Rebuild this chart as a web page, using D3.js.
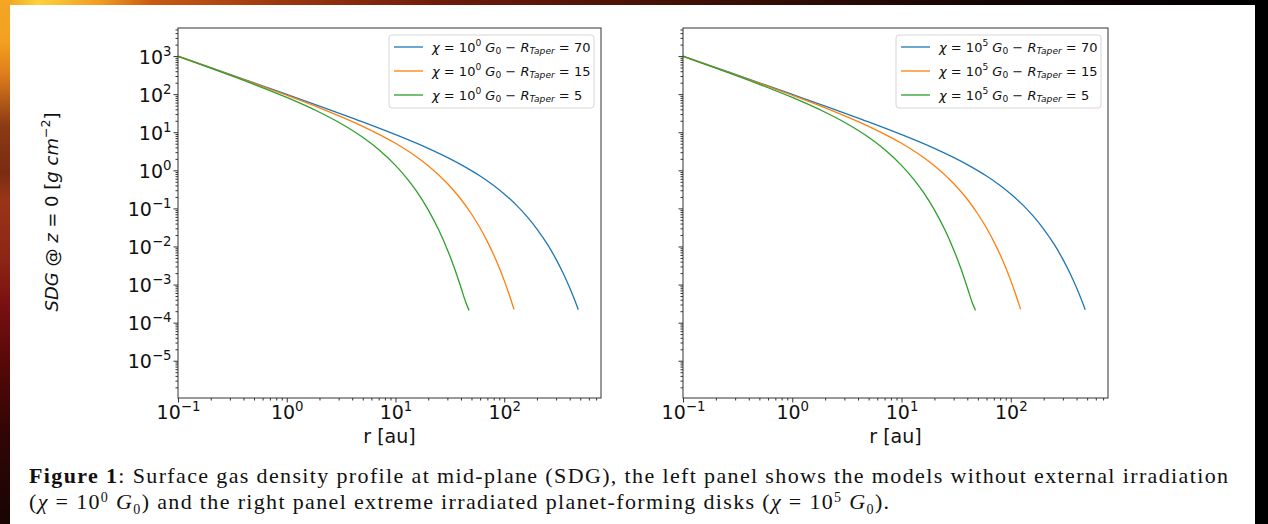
<!DOCTYPE html>
<html>
<head>
<meta charset="utf-8">
<script src="https://cdn.jsdelivr.net/npm/d3@7"></script>
<style>
  body { margin: 0; background: #000; overflow: hidden; }
  text { white-space: pre; }
</style>
</head>
<body>
<svg id="fig"></svg>
<script>
// surface gas density, r in au, SDG in g cm^-2
const rTaper70 = [0.1, 0.2, 0.5, 1, 2, 5, 10, 20, 40, 60, 80, 100, 130, 160, 200, 250, 300, 350, 400, 440, 480];
const sdgTaper70 = [999, 499, 199, 98.6, 48.6, 18.6, 8.67, 3.76, 1.41, 0.707, 0.399, 0.240, 0.120, 0.0636, 0.0287, 0.0113, 0.00459, 0.00193, 0.000825, 0.000423, 0.000219];

const rTaper15 = [0.1, 0.2, 0.5, 1, 2, 5, 10, 15, 20, 30, 40, 50, 60, 70, 80, 90, 100, 110, 123];
const sdgTaper15 = [993, 493, 193, 93.6, 43.8, 14.3, 5.13, 2.45, 1.32, 0.451, 0.174, 0.0713, 0.0305, 0.0134, 0.00604, 0.00275, 0.00127, 0.000594, 0.000223];

const rTaper5 = [0.1, 0.2, 0.5, 1, 2, 3, 5, 7, 10, 13, 16, 20, 25, 30, 35, 40, 44, 47.5];
const sdgTaper5 = [980, 480, 181, 81.9, 33.5, 18.3, 7.36, 3.52, 1.35, 0.571, 0.255, 0.0916, 0.0270, 0.00826, 0.00261, 0.000839, 0.00036, 0.00021];

const taperRadii = [70, 15, 5];
const chiExponents = ["0", "5"];          // left panel, right panel
const xTickExps = [-1, 0, 1, 2];
const yTickExps = [-5, -4, -3, -2, -1, 0, 1, 2, 3];
const seriesColors = ["#1f77b4", "#ff7f0e", "#2ca02c"];

const series = [
  {taper: taperRadii[0], pts: d3.zip(rTaper70, sdgTaper70)},
  {taper: taperRadii[1], pts: d3.zip(rTaper15, sdgTaper15)},
  {taper: taperRadii[2], pts: d3.zip(rTaper5, sdgTaper5)},
];

const W = 1268, H = 524;
const svg = d3.select("#fig").attr("width", W).attr("height", H);

// slide background frame
const defs = svg.append("defs");
const topGrad = defs.append("linearGradient").attr("id", "topGrad");
[["0%", "#ef9a1f"], ["3%", "#fcd23a"], ["8%", "#f09a22"], ["12%", "#c85a12"], ["22%", "#9c3810"],
 ["35%", "#6e1a0a"], ["55%", "#3e1006"], ["78%", "#140404"], ["100%", "#000"]]
  .forEach(s => topGrad.append("stop").attr("offset", s[0]).attr("stop-color", s[1]));
const leftGrad = defs.append("linearGradient").attr("id", "leftGrad")
  .attr("x1", 0).attr("x2", 0).attr("y1", 0).attr("y2", 1);
[["0%", "#f5a623"], ["8%", "#f3a020"], ["14%", "#e07e1c"], ["24%", "#8b3a15"], ["33%", "#7a2c12"],
 ["38%", "#9a3518"], ["50%", "#8c2416"], ["58%", "#7a1010"], ["68%", "#5a0909"], ["82%", "#330505"], ["100%", "#1a0404"]]
  .forEach(s => leftGrad.append("stop").attr("offset", s[0]).attr("stop-color", s[1]));

svg.append("rect").attr("width", W).attr("height", H).attr("fill", "#000");
svg.append("rect").attr("width", W).attr("height", 5).attr("fill", "url(#topGrad)");
svg.append("rect").attr("width", 10).attr("height", H).attr("fill", "url(#leftGrad)");
svg.append("rect").attr("x", 10).attr("y", 5).attr("width", 1245).attr("height", H - 5).attr("fill", "#fff");

// mathtext-like runs: [text, {i: italic, b: bold, s: "sup"|"sub"}]
function addMath(sel, parts, size, supRaise = 0.42, scriptScale = 0.7) {
  let shift = 0;
  parts.forEach(([str, o = {}]) => {
    const target = o.s === "sup" ? -supRaise * size : o.s === "sub" ? 0.22 * size : 0;
    sel.append("tspan")
      .attr("dy", target - shift)
      .attr("font-size", o.s ? size * scriptScale : size)
      .attr("font-style", o.i ? "italic" : null)
      .attr("font-weight", o.b ? "bold" : null)
      .text(str);
    shift = target;
  });
}
const sup = e => String(e).replace("-", "\u2212");

const panelTop = 28, panelBottom = 398;
const panels = [{left: 178, right: 601}, {left: 683, right: 1108}];

// minor tick positions 2..9 x decade
const minorX = [], minorY = [];
d3.range(-1, 3).forEach(e => d3.range(2, 10).forEach(m => minorX.push(m * Math.pow(10, e))));
d3.range(-6, 4).forEach(e => d3.range(2, 10).forEach(m => minorY.push(m * Math.pow(10, e))));

panels.forEach((p, pi) => {
  const x = d3.scaleLog().domain([0.1, 776]).range([p.left, p.right]);
  const y = d3.scaleLog().domain([1.05e-6, 5460]).range([panelBottom, panelTop]);
  const g = svg.append("g");

  const clipId = "clip" + pi;
  defs.append("clipPath").attr("id", clipId).append("rect")
    .attr("x", p.left).attr("y", panelTop).attr("width", p.right - p.left).attr("height", panelBottom - panelTop);

  // minor ticks
  g.append("g").attr("transform", `translate(0,${panelBottom})`)
    .call(d3.axisBottom(x).tickValues(minorX.filter(v => v > 0.1 && v < 776)).tickSize(2.5).tickFormat(""))
    .call(a => a.select(".domain").remove());
  g.append("g").attr("transform", `translate(${p.left},0)`)
    .call(d3.axisLeft(y).tickValues(minorY.filter(v => v > 1.05e-6 && v < 5460)).tickSize(2.5).tickFormat(""))
    .call(a => a.select(".domain").remove());

  // major ticks
  const xa = g.append("g").attr("transform", `translate(0,${panelBottom})`)
    .call(d3.axisBottom(x).tickValues(xTickExps.map(e => Math.pow(10, e))).tickSize(4.5).tickFormat(""))
    .call(a => a.select(".domain").remove());
  xa.selectAll(".tick text").data(xTickExps)
    .attr("y", 21).attr("dy", null)
    .attr("font-family", "DejaVu Sans").attr("fill", "#111")
    .each(function(e) { addMath(d3.select(this), [["10"], [sup(e), {s: "sup"}]], 19); });

  const ya = g.append("g").attr("transform", `translate(${p.left},0)`)
    .call(d3.axisLeft(y).tickValues(yTickExps.map(e => Math.pow(10, e))).tickSize(4.5).tickPadding(2).tickFormat(""))
    .call(a => a.select(".domain").remove());
  if (pi === 0) {
    ya.selectAll(".tick text").data(yTickExps)
      .attr("y", 7).attr("dy", null)
      .attr("font-family", "DejaVu Sans").attr("fill", "#111")
      .each(function(e) { addMath(d3.select(this), [["10"], [sup(e), {s: "sup"}]], 19); });
  }
  g.selectAll(".tick line").attr("stroke", "#333");

  // curves
  const line = d3.line().x(d => x(d[0])).y(d => y(d[1])).curve(d3.curveMonotoneX);
  g.append("g").attr("clip-path", `url(#${clipId})`)
    .selectAll("path").data(series).join("path")
    .attr("d", d => line(d.pts))
    .attr("fill", "none")
    .attr("stroke", (d, i) => seriesColors[i])
    .attr("stroke-width", 1.3);

  // frame
  g.append("rect")
    .attr("x", p.left).attr("y", panelTop)
    .attr("width", p.right - p.left).attr("height", panelBottom - panelTop)
    .attr("fill", "none").attr("stroke", "#333").attr("stroke-width", 1);

  // x label
  g.append("text")
    .attr("x", (p.left + p.right) / 2).attr("y", 443)
    .attr("text-anchor", "middle").attr("font-family", "DejaVu Sans").attr("font-size", 19).attr("fill", "#111")
    .text("r [au]");

  // legend
  const lw = 205, lh = 73;
  const lx = p.right - 7 - lw, ly = 35;
  const leg = g.append("g");
  leg.append("rect").attr("x", lx).attr("y", ly).attr("width", lw).attr("height", lh).attr("rx", 3)
    .attr("fill", "#fff").attr("fill-opacity", 0.8).attr("stroke", "#d6d6d6");
  const rows = leg.selectAll("g.row").data(series).join("g").attr("class", "row")
    .attr("transform", (d, i) => `translate(${lx},${ly + 12 + i * 24})`);
  rows.append("line").attr("x1", 5).attr("x2", 34)
    .attr("stroke", (d, i) => seriesColors[i]).attr("stroke-width", 1.3);
  rows.append("text").attr("x", 43).attr("y", 4.5)
    .attr("font-family", "DejaVu Sans").attr("fill", "#111")
    .each(function(d) {
      addMath(d3.select(this), [
        ["\u03c7", {i: 1}], [" = 10"], [chiExponents[pi], {s: "sup"}], [" "], ["G", {i: 1}], ["0", {s: "sub"}],
        [" \u2212 "], ["R", {i: 1}], ["Taper", {i: 1, s: "sub"}], [" = " + d.taper]
      ], 13);
    });
});

// y label
const yl = svg.append("text")
  .attr("transform", "translate(58,212) rotate(-90)")
  .attr("text-anchor", "middle").attr("font-family", "DejaVu Sans").attr("fill", "#111");
addMath(yl, [["SDG", {i: 1}], [" @ "], ["z", {i: 1}], [" = 0 ["], ["g", {i: 1}], [" "], ["cm", {i: 1}],
  ["\u22122", {s: "sup"}], ["]"]], 18);

// caption, both lines stretched by the same factor so line 1 spans its width in the figure
const capSize = 22;
const cap1 = svg.append("text").attr("x", 29).attr("y", 483)
  .attr("font-family", "Liberation Serif").attr("fill", "#111");
addMath(cap1, [["Figure 1", {b: 1}],
  [": Surface gas density profile at mid-plane (SDG), the left panel shows the models without external irradiation"]], capSize);

const cap2 = svg.append("text").attr("x", 29).attr("y", 509)
  .attr("font-family", "Liberation Serif").attr("fill", "#111");
addMath(cap2, [["("], ["\u03c7", {i: 1}], [" = 10"], ["0", {s: "sup"}], [" "], ["G", {i: 1}], ["0", {s: "sub"}],
  [") and the right panel extreme irradiated planet-forming disks ("], ["\u03c7", {i: 1}], [" = 10"], ["5", {s: "sup"}],
  [" "], ["G", {i: 1}], ["0", {s: "sub"}], [")."]], capSize, 0.32, 0.64);

const k = 1199 / cap1.node().getComputedTextLength();
cap2.attr("textLength", cap2.node().getComputedTextLength() * k).attr("lengthAdjust", "spacing");
cap1.attr("textLength", 1199).attr("lengthAdjust", "spacing");
</script>
</body>
</html>
